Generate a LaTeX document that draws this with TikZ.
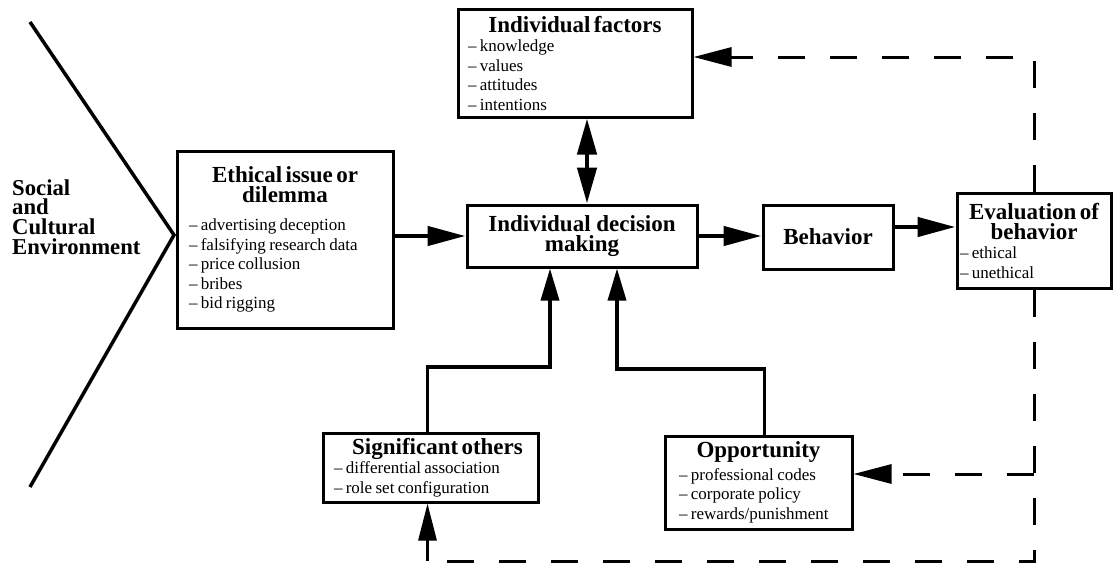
\documentclass[tikz,border=0pt]{standalone}
\usepackage{fontspec}
\setmainfont{Liberation Serif}
\usetikzlibrary{arrows.meta}

\newcommand{\boxtitle}{\fontsize{23}{20}\selectfont\bfseries}
\newcommand{\boxlist}{\fontsize{17}{19.5}\selectfont}
\newcommand{\itm}{\textendash\ }

\tikzset{
  box/.style={draw, line width=3pt, inner ysep=0pt, align=left},
  main/.style={line width=4.5pt, -{Triangle[length=38pt, width=19pt]}},
  link/.style={line width=3.5pt, -{Triangle[length=32pt, width=18pt]}},
  fbline/.style={line width=3pt, dash pattern=on 27pt off 25pt},
  fback/.style={fbline, -{Triangle[length=38pt, width=19pt]}},
}

\begin{document}
\begin{tikzpicture}[x=1pt, y=-1pt]
  \useasboundingbox (0,0) rectangle (1116,565);
  % environment wedge
  \draw[line width=3.5pt] (30,22) -- (174,235) -- (30,487);
  \node[anchor=base west, text width=160pt, align=left, inner sep=0pt] (env) at (12,195)
    {\fontsize{22.7}{19.7}\selectfont\bfseries Social\\and\\Cultural\\Environment\par};

  % boxes
  \node[box, inner xsep=12pt, text width=192pt, minimum height=177pt] (ethic) at (285,239.5)
    {{\centering\boxtitle Ethical issue or\\dilemma\par}\vspace{9pt}
     \boxlist\itm advertising deception\\\itm falsifying research data\\\itm price collusion\\\itm bribes\\\itm bid rigging\par};
  \node[box, inner xsep=10pt, text width=214pt, minimum height=108pt] (ifac) at (575,63)
    {{\centering\boxtitle Individual factors\par}
     \boxlist\itm knowledge\\\itm values\\\itm attitudes\\\itm intentions\par};
  \node[box, align=center, font=\boxtitle, minimum width=230pt, minimum height=62pt] (idm) at (582,236)
    {Individual decision\\making};
  \node[box, font=\boxtitle, minimum width=130pt, minimum height=64pt] (beh) at (828,237) {Behavior};
  \node[box, inner xsep=3pt, text width=148pt, minimum height=95pt] (eval) at (1034,240.5)
    {{\centering\boxtitle Evaluation of\\behavior\par}
     \boxlist\itm ethical\\\itm unethical\par};
  \node[box, inner xsep=11pt, text width=193pt, minimum height=69pt] (sig) at (430.5,467.5)
    {{\centering\boxtitle\hspace*{14pt}Significant others\par}
     \boxlist\itm differential association\\\itm role set configuration\par};
  \node[box, inner xsep=14pt, text width=159pt, minimum height=93pt] (opp) at (758.5,482.5)
    {{\centering\boxtitle Opportunity\par}\vspace{3pt}
     \boxlist\itm professional codes\\\itm corporate policy\\\itm rewards/punishment\par};

  % main flow
  \draw[main] (ethic.east |- idm.west) -- (idm.west);
  \draw[main] (idm.east) -- (idm.east -| beh.west);
  \draw[main] ([yshift=10pt]beh.east) -- ([yshift=10pt]beh.east -| eval.west);
  \draw[line width=4.5pt, {Triangle[length=36pt, width=19pt]}-{Triangle[length=36pt, width=19pt]}]
    ([xshift=5pt]idm.north) -- ([xshift=5pt]idm.north |- ifac.south);

  % influences
  \coordinate (sigbend) at (0,367);
  \coordinate (oppbend) at (0,369);
  \draw[link] ([xshift=-3pt]sig.north) -- ([xshift=-3pt]sig.north |- sigbend) -| ([xshift=-32pt]idm.south);
  \draw[link] ([xshift=6pt]opp.north) -- ([xshift=6pt]opp.north |- oppbend) -| ([xshift=35pt]idm.south);

  % feedback
  \coordinate (fbtop) at (0,57);
  \coordinate (fbopp) at (0,474);
  \coordinate (fbbot) at (0,561);
  \coordinate (sigfoot) at ([xshift=-3pt]sig.south |- fbbot);
  \draw[fback] (eval.north) |- (ifac.east |- fbtop);
  \draw[fbline] (eval.south) |- (sigfoot);
  \draw[line width=3pt, -{Triangle[length=37pt, width=18pt]}] (sigfoot) -- ([xshift=-3pt]sig.south);
  \draw[fback] (eval.south |- fbopp) -- (opp.east |- fbopp);
\end{tikzpicture}
\end{document}
